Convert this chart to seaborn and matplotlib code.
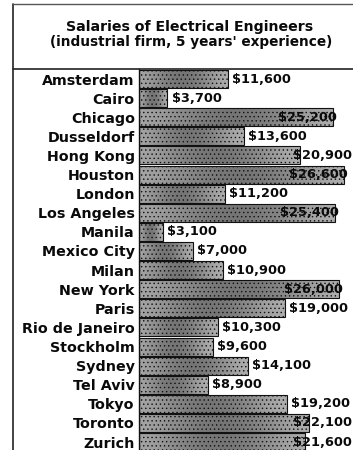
import numpy as np
import pandas as pd
import matplotlib
matplotlib.use("Agg")
import matplotlib.pyplot as plt
from matplotlib.lines import Line2D
import seaborn as sns

cities = ["Amsterdam", "Cairo", "Chicago", "Dusseldorf", "Hong Kong", "Houston",
          "London", "Los Angeles", "Manila", "Mexico City", "Milan", "New York",
          "Paris", "Rio de Janeiro", "Stockholm", "Sydney", "Tel Aviv", "Tokyo",
          "Toronto", "Zurich"]
salaries = [11600, 3700, 25200, 13600, 20900, 26600, 11200, 25400, 3100, 7000,
            10900, 26000, 19000, 10300, 9600, 14100, 8900, 19200, 22100, 21600]
title_lines = ["Salaries of Electrical Engineers",
               "(industrial firm, 5 years' experience)"]

df = pd.DataFrame({"city": cities, "salary": salaries})

sns.set_theme(style="white")
plt.rcParams["font.family"] = ["DejaVu Sans"]
plt.rcParams["hatch.color"] = "#3a3a3a"
plt.rcParams["hatch.linewidth"] = 0.5

W, H = 353, 450
XMAX = 27800
fig = plt.figure(figsize=(W / 100, H / 100), dpi=100)
ax_left, ax_right, ax_top, ax_bottom = 139, 353, 69.5, 451.6
ax = fig.add_axes([ax_left / W, 1 - ax_bottom / H,
                   (ax_right - ax_left) / W, (ax_bottom - ax_top) / H])

sns.barplot(data=df, x="salary", y="city", orient="h", ax=ax,
            color="#808080", width=0.94, edgecolor="#111111", linewidth=0.8,
            saturation=1)

# halftone-like shading inside each bar: lighter at the ends, darker in the middle
grad = np.linspace(0, 1, 200)
shade = 0.64 - 0.2 * np.sin(np.pi * grad) ** 1.5 + 0.04 * grad
for patch in ax.patches:
    x0, y0 = patch.get_x(), patch.get_y()
    w, h = patch.get_width(), patch.get_height()
    im = ax.imshow(shade[None, :], cmap="gray", vmin=0, vmax=1, aspect="auto",
                   extent=[x0, x0 + w, y0 + h, y0], interpolation="bilinear",
                   zorder=patch.get_zorder() + 0.1)
    im.set_clip_path(patch)
    patch.set_hatch("....")
    patch.set_facecolor("none")
    patch.set_zorder(patch.get_zorder() + 0.2)
ax.set_xlim(0, XMAX)
ax.set_ylim(len(cities) - 0.5, -0.5)

for i, v in enumerate(salaries):
    label = f"${v:,}"
    if v >= 24000:
        ax.annotate(label, (v, i), xytext=(3, 0), textcoords="offset points",
                    ha="right", va="center", fontsize=9.3, fontweight="bold",
                    color="#0a0a0a", zorder=5)
    elif v >= 20000:
        # labels that would run past the edge sit flush with the right side
        ax.annotate(label, (XMAX, i), xytext=(-1, 0), textcoords="offset points",
                    ha="right", va="center", fontsize=9.3, fontweight="bold",
                    color="#0a0a0a", zorder=5)
    else:
        ax.annotate(label, (v, i), xytext=(3, 0), textcoords="offset points",
                    ha="left", va="center", fontsize=9.3, fontweight="bold",
                    color="#0a0a0a", zorder=5)

ax.set_xlabel("")
ax.set_ylabel("")
ax.set_xticks([])
ax.tick_params(axis="y", length=0, pad=3)
for lab in ax.get_yticklabels():
    lab.set_fontweight("bold")
    lab.set_fontsize(10.3)
    lab.set_color("#0a0a0a")
for s in ["top", "right", "bottom"]:
    ax.spines[s].set_visible(False)
ax.spines["left"].set_color("#111111")
ax.spines["left"].set_linewidth(1.0)

# title box and frame
def fx(px):
    return px / W

def fy(py):
    return 1 - py / H

fig.add_artist(Line2D([fx(12.5), fx(12.5)], [fy(3.5), fy(450)], color="#222222", lw=1.2))
fig.add_artist(Line2D([fx(12.5), fx(353)], [fy(4), fy(4)], color="#555555", lw=1.0))
fig.add_artist(Line2D([fx(12.5), fx(353)], [fy(69), fy(69)], color="#222222", lw=1.2))
fig.text(fx(190), fy(27), title_lines[0], ha="center", va="center",
         fontsize=10.2, fontweight="bold", color="#0a0a0a")
fig.text(fx(191), fy(42), title_lines[1], ha="center", va="center",
         fontsize=9.8, fontweight="bold", color="#0a0a0a")

fig.savefig("out.png", dpi=100)
